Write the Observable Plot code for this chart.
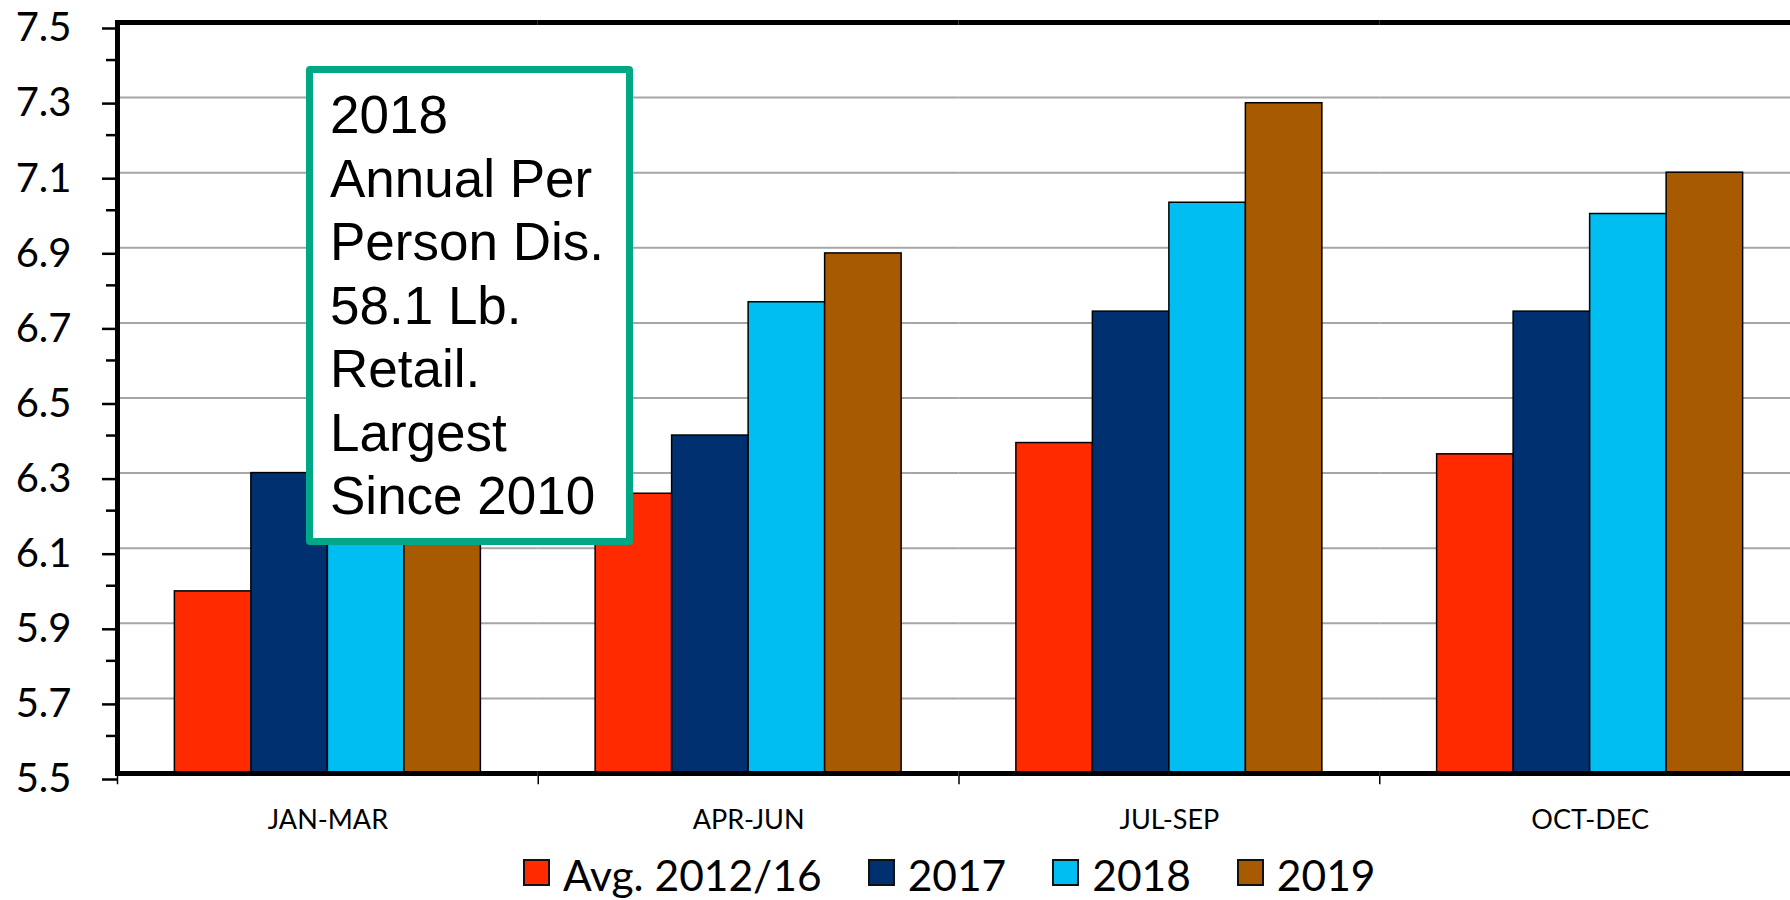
<!DOCTYPE html>
<html>
<head>
<meta charset="utf-8">
<script src="https://cdn.jsdelivr.net/npm/d3@7"></script>
<script src="https://cdn.jsdelivr.net/npm/@observablehq/plot@0.6"></script>
<style>
  html, body { margin: 0; padding: 0; background: #fff; }
  #wrap { position: relative; width: 1790px; height: 900px; overflow: hidden; background: #fff; }
  #chart { position: absolute; left: 0; top: 0; width: 1802px; }
  #chart svg { max-width: none !important; }
  #note {
    position: absolute; left: 306px; top: 66px; width: 327px; height: 479px;
    box-sizing: border-box; border: 7px solid #00A886; border-radius: 4px; background: #fff;
    font-family: "Liberation Sans", Arial, sans-serif; font-size: 53px; line-height: 63.5px;
    padding: 10px 0 0 17px; color: #000; white-space: nowrap;
  }
  #legend {
    position: absolute; left: 523px; top: 854px; display: flex; align-items: center;
    font-family: Lato, sans-serif; font-size: 42.5px; line-height: 1; color: #000;
  }
  .item { display: flex; align-items: center; margin-right: 46px; }
  .item:last-child { margin-right: 0; }
  .sw { width: 27px; height: 27px; box-sizing: border-box; border: 2px solid #111; margin-right: 13px; margin-top: -6px; }
</style>
</head>
<body>
<div id="wrap">
  <div id="chart"></div>
  <div id="note"></div>
  <div id="legend"></div>
</div>
<script>
const quarters = ["JAN-MAR", "APR-JUN", "JUL-SEP", "OCT-DEC"];
const seriesNames = ["Avg. 2012/16", "2017", "2018", "2019"];
const seriesColors = ["#FF2A00", "#003070", "#00BEF2", "#A85A00"];
const avg2012to16 = [5.985, 6.245, 6.38, 6.35];
const values2017 = [6.30, 6.40, 6.73, 6.73];
const values2018 = [6.50, 6.755, 7.02, 6.99];
const values2019 = [6.65, 6.885, 7.285, 7.10];
const yTicks = [5.5, 5.7, 5.9, 6.1, 6.3, 6.5, 6.7, 6.9, 7.1, 7.3, 7.5];
const yMinorTicks = [5.6, 5.8, 6.0, 6.2, 6.4, 6.6, 6.8, 7.0, 7.2, 7.4];
const gridTicks = [5.7, 5.9, 6.1, 6.3, 6.5, 6.7, 6.9, 7.1, 7.3];
const noteLines = ["2018", "Annual Per", "Person Dis.", "58.1 Lb.", "Retail.", "Largest", "Since 2010"];

const seriesValues = [avg2012to16, values2017, values2018, values2019];
const table = quarters.flatMap((q, i) =>
  seriesNames.map((s, j) => ({quarter: q, series: s, value: seriesValues[j][i]}))
);

const yMin = yTicks[0], yMax = yTicks[yTicks.length - 1];

const chart = Plot.plot({
  width: 1802,
  height: 840,
  marginLeft: 117,
  marginRight: 2,
  marginTop: 22,
  marginBottom: 67,
  style: {fontFamily: "Lato, sans-serif", background: "white", color: "black", maxWidth: "none"},
  x: {domain: seriesNames, paddingInner: 0, paddingOuter: 0.75, round: false, axis: null},
  fx: {domain: quarters, padding: 0, round: false, label: null},
  y: {domain: [yMin, yMax], label: null},
  color: {domain: seriesNames, range: seriesColors},
  marks: [
    Plot.gridY(gridTicks, {stroke: "#a6a6a6", strokeOpacity: 1, strokeWidth: 2}),
    Plot.barY(table, {fx: "quarter", x: "series", y1: yMin, y2: "value", fill: "series", stroke: "#000", strokeWidth: 1.5}),
    Plot.ruleY([yMin], {stroke: "#000", strokeWidth: 5}),
    Plot.ruleY([yMax], {stroke: "#000", strokeWidth: 5}),
    Plot.frame({anchor: "left", insetTop: 754, insetBottom: -10, stroke: "#000", strokeWidth: 1.5}),
    Plot.frame({anchor: "left", facetAnchor: "left", stroke: "#000", strokeWidth: 5}),
    Plot.axisY(yTicks, {tickSize: 15, tickPadding: 31, tickFormat: d3.format(".1f"), fontSize: 40, strokeWidth: 2.5, dy: 6, label: null}),
    Plot.axisY(yMinorTicks, {tickSize: 11, tickFormat: () => "", strokeWidth: 2.5, label: null}),
    Plot.axisFx({anchor: "bottom", tickSize: 0, tickPadding: 36, fontSize: 27, label: null})
  ]
});
document.getElementById("chart").appendChild(chart);

const note = document.getElementById("note");
note.innerHTML = noteLines.map(l => `<div>${l}</div>`).join("");

const legend = document.getElementById("legend");
seriesNames.forEach((s, i) => {
  const item = document.createElement("div");
  item.className = "item";
  const sw = document.createElement("div");
  sw.className = "sw";
  sw.style.background = seriesColors[i];
  const t = document.createElement("span");
  t.textContent = s;
  item.appendChild(sw);
  item.appendChild(t);
  legend.appendChild(item);
});
</script>
</body>
</html>
